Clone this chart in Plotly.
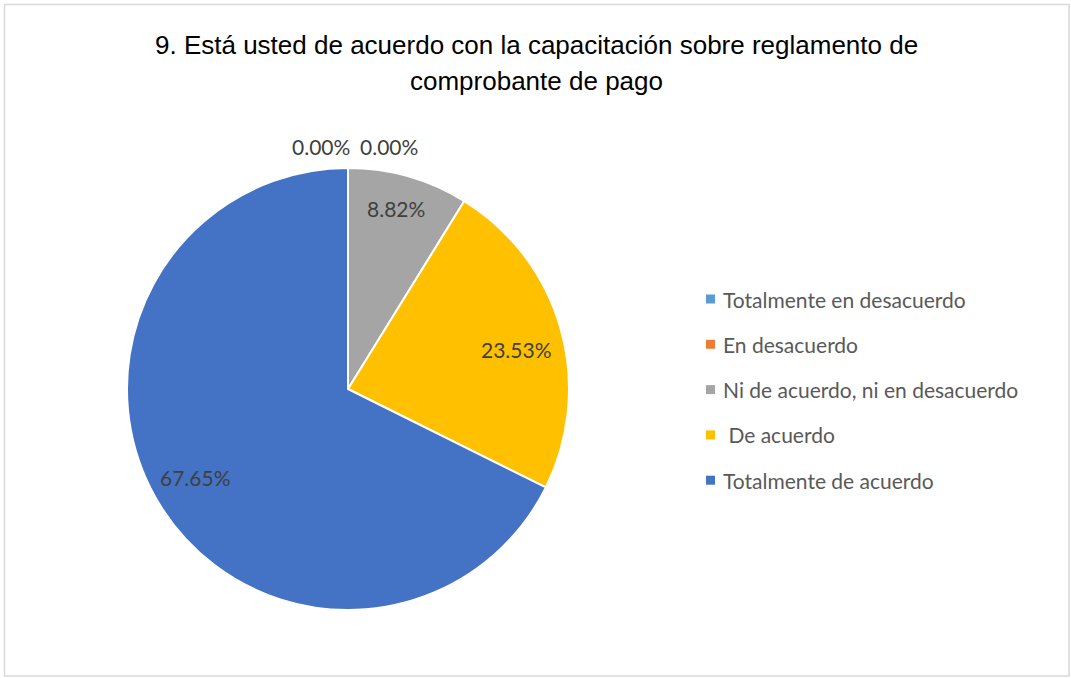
import math
import plotly.graph_objects as go

categories = ["Totalmente en desacuerdo", "En desacuerdo", "Ni de acuerdo, ni en desacuerdo",
              " De acuerdo", "Totalmente de acuerdo"]
values = [0.0, 0.0, 8.82, 23.53, 67.65]
colors = ["#5B9BD5", "#ED7D31", "#A5A5A5", "#FFC000", "#4472C4"]
title_lines = ["9. Está usted de acuerdo con la capacitación sobre reglamento de",
               "comprobante de pago"]

W, H = 1071, 678
cx, cy, R = 348, 389, 221  # pie center / radius in pixels
label_r = [1.1, 1.1, 0.84, 0.78, 0.80]      # label distance as fraction of radius (style)
label_turn = [0, 0, -1.0, 3.0, 1.5]           # small angular nudge in degrees (style)

def px(x):
    return x / W

def py(y):
    return 1 - y / H

fig = go.Figure()
fig.add_trace(go.Pie(
    labels=categories, values=values, sort=False, direction="clockwise", rotation=0,
    marker=dict(colors=colors, line=dict(color="white", width=2)),
    textinfo="none", hoverinfo="label+percent", showlegend=False,
    domain=dict(x=[px(cx - R), px(cx + R)], y=[py(cy + R), py(cy - R)]),
))

label_font = dict(family="Lato, Carlito, Calibri, sans-serif", size=21, color="#404040")
annotations = []
total = sum(values)
cum = 0.0
zero_idx = 0
for i, v in enumerate(values):
    if v == 0:
        # Zero slices: labels set outside, above the top of the pie
        xc = 321 if zero_idx == 0 else 389
        annotations.append(dict(x=px(xc), y=py(146), xref="paper", yref="paper",
                                xanchor="center", yanchor="middle",
                                text=f"{v:.2f}%", showarrow=False, font=label_font))
        zero_idx += 1
    else:
        mid = (cum + v / 2) / total * 2 * math.pi + math.radians(label_turn[i])
        r = label_r[i] * R
        x = cx + r * math.sin(mid)
        y = cy - r * math.cos(mid)
        annotations.append(dict(x=px(x), y=py(y - 1), xref="paper", yref="paper",
                                xanchor="center", yanchor="middle",
                                text=f"{v:.2f}%", showarrow=False, font=label_font))
    cum += v

# Manual legend
legend_font = dict(family="Lato, Carlito, Calibri, sans-serif", size=21, color="#595959")
shapes = []
ly0, lstep = 299, 45.3
for i, (cat, col) in enumerate(zip(categories, colors)):
    yy = ly0 + i * lstep
    shapes.append(dict(type="rect", xref="paper", yref="paper",
                       x0=px(706), x1=px(715), y0=py(yy + 4.5), y1=py(yy - 4.5),
                       fillcolor=col, line=dict(width=0)))
    annotations.append(dict(x=px(721), y=py(yy), xref="paper", yref="paper",
                            xanchor="left", yanchor="middle",
                            text=cat.replace(" ", "&nbsp;") if cat.startswith(" ") else cat,
                            showarrow=False, font=legend_font))

# Title (two lines)
title_font = dict(family="Liberation Sans Narrow, Arial Narrow, Liberation Sans, Arial, sans-serif",
                  size=26, color="#000000")
for line, yc in zip(title_lines, [45, 81]):
    annotations.append(dict(x=px(536), y=py(yc), xref="paper", yref="paper",
                            xanchor="center", yanchor="middle",
                            text=line, showarrow=False, font=title_font))

# Outer border
shapes.append(dict(type="rect", xref="paper", yref="paper",
                   x0=px(4.5), x1=px(1069), y0=py(676), y1=py(4.5),
                   line=dict(color="#D9D9D9", width=1.5), fillcolor="rgba(0,0,0,0)"))

fig.update_layout(
    width=W, height=H, margin=dict(l=0, r=0, t=0, b=0),
    paper_bgcolor="white", plot_bgcolor="white",
    annotations=annotations, shapes=shapes, showlegend=False,
)

fig.write_html("out.html", config={"displayModeBar": False},
               post_script="document.body.style.margin='0';")
